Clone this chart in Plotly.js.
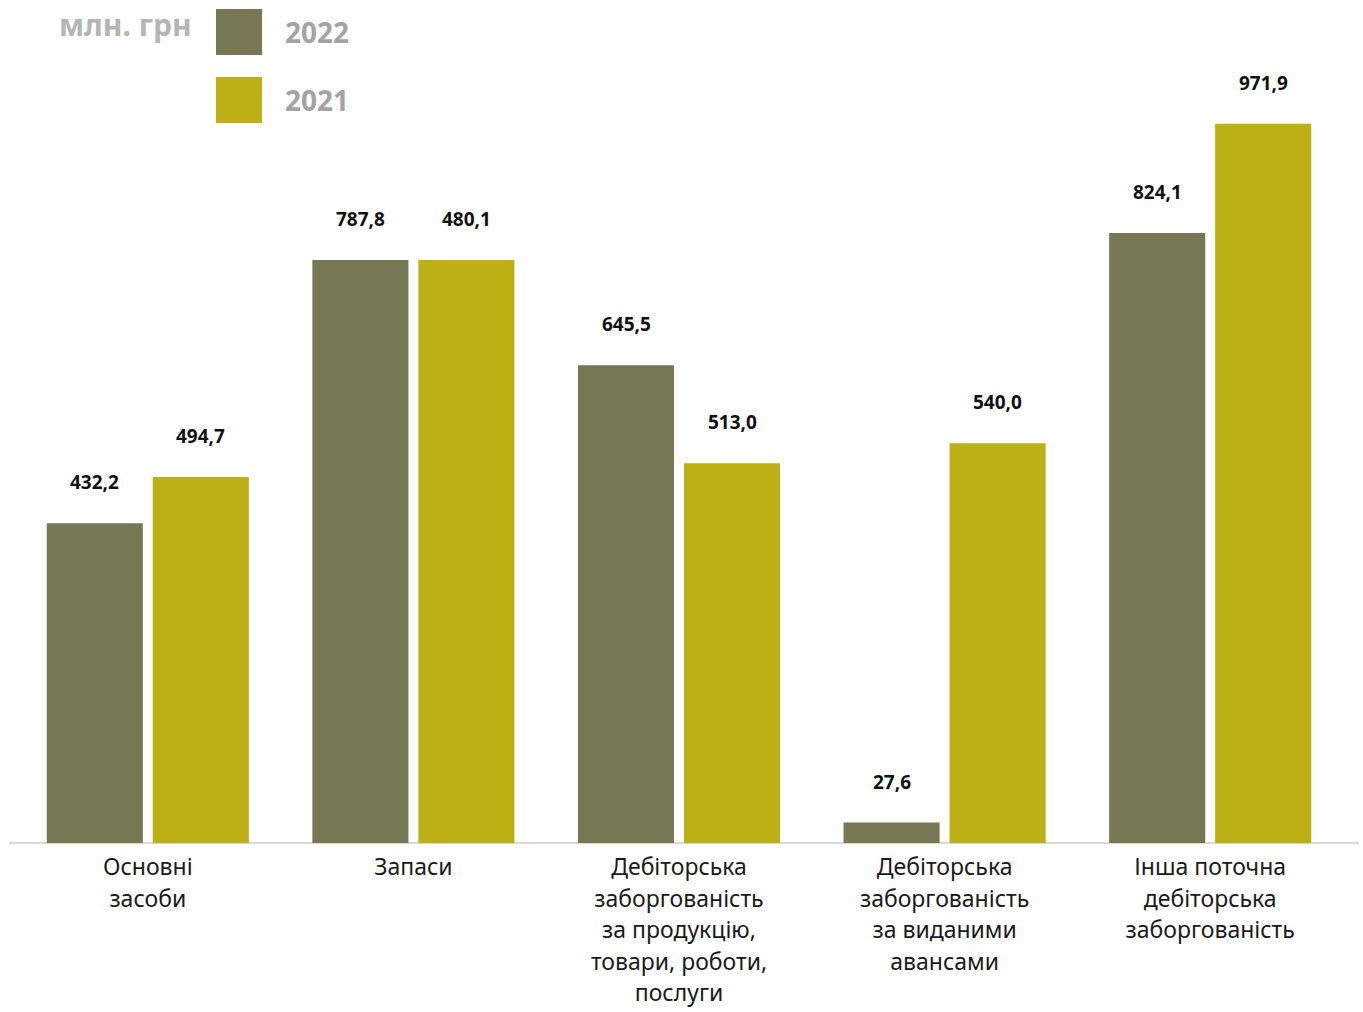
<!DOCTYPE html>
<html>
<head>
<meta charset="utf-8">
<script src="https://cdn.plot.ly/plotly-3.0.1.min.js"></script>
<style>html,body{margin:0;padding:0;background:#fff;}#chart{width:1363px;height:1012px;}</style>
</head>
<body>
<div id="chart"></div>
<script>
// Categories (x tick labels), one entry per line
const categoryLines = [
  ['Основні', 'засоби'],
  ['Запаси'],
  ['Дебіторська', 'заборгованість', 'за продукцію,', 'товари, роботи,', 'послуги'],
  ['Дебіторська', 'заборгованість', 'за виданими', 'авансами'],
  ['Інша поточна', 'дебіторська', 'заборгованість']
];
const seriesNames = ['2022', '2021'];
// Bar heights as drawn in the picture (млн. грн)
const values2022 = [432.2, 787.8, 645.5, 27.6, 824.1];
const values2021 = [494.7, 787.8, 513.0, 540.0, 971.9];
// Printed data labels
const labels2022 = ['432,2', '787,8', '645,5', '27,6', '824,1'];
const labels2021 = ['494,7', '480,1', '513,0', '540,0', '971,9'];
const unitLabel = 'млн. грн';

const categories = categoryLines.map(l => l.join(' '));
const tickText = categoryLines.map(l => l.map(s => '<span style="font-size:23px">' + s + '</span>').join('<br>'));

const colors = ['#787753', '#bcb014'];
const series = [values2022, values2021];
const labelSets = [labels2022, labels2021];

const traces = series.map((vals, i) => ({
  type: 'bar',
  name: seriesNames[i],
  x: categories,
  y: vals,
  marker: {color: colors[i]},
  hoverinfo: 'skip',
  showlegend: false
}));

const annotations = [];
series.forEach((vals, i) => {
  vals.forEach((v, j) => {
    annotations.push({
      x: categories[j], y: v, xref: 'x', yref: 'y',
      text: labelSets[i][j], showarrow: false,
      xshift: i === 0 ? -53 : 53, yshift: 41, yanchor: 'middle',
      font: {family: 'Noto Sans, sans-serif', size: 19, color: '#111111', weight: 'bold'}
    });
  });
});

// Unit label
annotations.push({
  xref: 'paper', yref: 'paper', x: (57 - 15) / 1328, y: 1 + (60 - 25) / 783,
  xanchor: 'left', yanchor: 'middle', showarrow: false, text: '<b>' + unitLabel + '</b>',
  font: {family: 'Noto Sans, sans-serif', size: 30, color: '#b5b5b5'}
});
// Legend texts + swatches
const shapes = [];
const legendY = [32, 100];
seriesNames.forEach((n, i) => {
  annotations.push({
    xref: 'paper', yref: 'paper', x: (283 - 15) / 1328, y: 1 + (60 - legendY[i]) / 783,
    xanchor: 'left', yanchor: 'middle', showarrow: false, text: '<b>' + n + '</b>',
    font: {family: 'Noto Sans, sans-serif', size: 28, color: '#a3a3a3'}
  });
  shapes.push({
    type: 'rect', xref: 'paper', yref: 'paper',
    x0: (216 - 15) / 1328, x1: (262 - 15) / 1328,
    y0: 1 + (60 - legendY[i] - 23) / 783, y1: 1 + (60 - legendY[i] + 23) / 783,
    fillcolor: colors[i], line: {width: 0}
  });
});
// Baseline
shapes.push({
  type: 'line', xref: 'paper', yref: 'paper',
  x0: (9 - 15) / 1328, x1: (1359 - 15) / 1328, y0: 0, y1: 0,
  line: {color: '#d9d9d9', width: 2}, layer: 'below'
});

const layout = {
  width: 1363, height: 1012,
  margin: {l: 15, r: 20, t: 60, b: 169},
  paper_bgcolor: '#ffffff', plot_bgcolor: '#ffffff',
  barmode: 'group', bargap: 0.2015, bargroupgap: 0.094,
  showlegend: false,
  xaxis: {
    showgrid: false, zeroline: false, showline: false, ticks: '',
    tickmode: 'array', tickvals: categories, ticktext: tickText,
    ticklabelstandoff: 7,
    tickfont: {family: 'Noto Sans, sans-serif', size: 24.2, color: '#1a1a1a'},
    fixedrange: true
  },
  yaxis: {
    range: [0, 1058], visible: false, showgrid: false, zeroline: false, fixedrange: true
  },
  annotations: annotations,
  shapes: shapes
};

Plotly.newPlot('chart', traces, layout, {displayModeBar: false, staticPlot: true});
</script>
</body>
</html>
